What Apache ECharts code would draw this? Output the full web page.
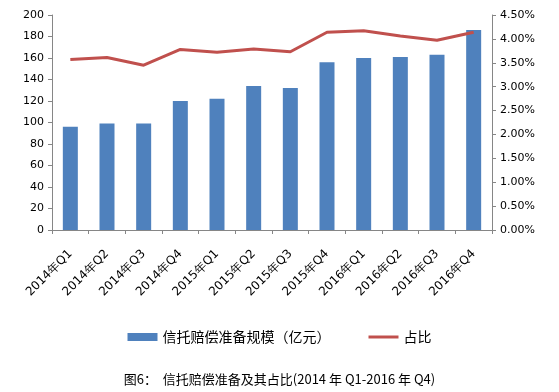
<!DOCTYPE html>
<html><head><meta charset="utf-8">
<script src="https://cdn.jsdelivr.net/npm/echarts@6/dist/echarts.min.js"></script>
<style>html,body{margin:0;padding:0;background:#fff}#c{width:559px;height:392px}</style>
</head><body><div id="c"></div>
<script>
const categories = ['2014年Q1','2014年Q2','2014年Q3','2014年Q4','2015年Q1','2015年Q2','2015年Q3','2015年Q4','2016年Q1','2016年Q2','2016年Q3','2016年Q4'];
const reserveValues = [96, 99, 99, 120, 122, 134, 132, 156, 160, 161, 163, 186];
const shareValues = [3.57, 3.61, 3.45, 3.78, 3.72, 3.79, 3.73, 4.14, 4.17, 4.06, 3.97, 4.14];
const leftTicks = [0, 200, 20];
const rightTicks = [0, 4.5, 0.5];
const seriesNames = ['信托赔偿准备规模（亿元）', '占比'];
const titleText = '图6：  信托赔偿准备及其占比(2014 年 Q1-2016 年 Q4)';

const axisColor = '#868686';
const font = 'DejaVu Sans';
const chart = echarts.init(document.getElementById('c'), null, {renderer: 'canvas'});
chart.setOption({
  animation: false,
  backgroundColor: '#fff',
  title: {
    text: titleText, left: 'center', top: 368,
    textStyle: {fontFamily: 'Noto Sans CJK SC', fontSize: 13, fontWeight: 'normal', color: '#000'}
  },
  legend: {
    top: 325, left: 'center', itemGap: 38, itemWidth: 30, itemHeight: 8,
    textStyle: {fontFamily: 'Noto Sans CJK SC', fontSize: 14, color: '#000'},
    data: [
      {name: seriesNames[0], icon: 'rect'},
      {name: seriesNames[1], icon: 'path://M0,0 L30,0 L30,3 L0,3 Z', itemStyle: {color: '#C0504D'}}
    ]
  },
  grid: {left: 52, right: 67, top: 15, bottom: 162},
  xAxis: {
    type: 'category', data: categories, boundaryGap: true,
    axisLine: {lineStyle: {color: axisColor}},
    axisTick: {show: true, length: 4, lineStyle: {color: axisColor}},
    axisLabel: {rotate: 45, margin: 22, interval: 0, fontFamily: font, fontSize: 12, color: '#000'}
  },
  yAxis: [
    {type: 'value', min: leftTicks[0], max: leftTicks[1], interval: leftTicks[2],
     splitLine: {show: false},
     axisLine: {show: true, lineStyle: {color: axisColor}},
     axisTick: {show: true, length: 4, lineStyle: {color: axisColor}},
     axisLabel: {fontFamily: font, fontSize: 11, color: '#000', margin: 8}},
    {type: 'value', min: rightTicks[0], max: rightTicks[1], interval: rightTicks[2],
     splitLine: {show: false},
     axisLine: {show: true, lineStyle: {color: axisColor}},
     axisTick: {show: true, length: 4, lineStyle: {color: axisColor}},
     axisLabel: {fontFamily: font, fontSize: 11, color: '#000', margin: 8,
       formatter: v => v.toFixed(2) + '%'}}
  ],
  series: [
    {name: seriesNames[0], type: 'bar', data: reserveValues, barWidth: 15,
     itemStyle: {color: '#4F81BD'}},
    {name: seriesNames[1], type: 'line', yAxisIndex: 1, data: shareValues,
     symbol: 'none', lineStyle: {color: '#C0504D', width: 3}, itemStyle: {color: '#C0504D'}}
  ]
});
</script></body></html>
